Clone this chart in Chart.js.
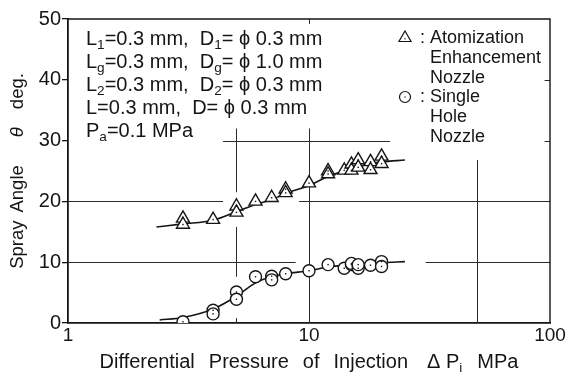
<!DOCTYPE html>
<html>
<head>
<meta charset="utf-8">
<script src="https://cdn.jsdelivr.net/npm/chart.js@4"></script>
<style>
  html, body { margin: 0; padding: 0; background: #fff; }
</style>
</head>
<body>
<canvas id="myChart" width="567" height="376"></canvas>
<script>
// measured points - atomization enhancement nozzle (triangles)
const pTri = [3, 3, 4, 5, 5, 6, 7, 8, 8, 10, 12, 12, 14, 15, 15, 16, 16, 18, 18, 20, 20];
const aTri = [17.2, 16.2, 17.0, 19.2, 18.2, 20.0, 20.6, 22.0, 21.4, 23.0, 25.0, 24.5, 25.1, 26.1, 25.1, 26.8, 25.6, 26.5, 25.2, 27.4, 26.2];
// measured points - single hole nozzle (circles)
const pCir = [3, 4, 4, 5, 5, 6, 7, 7, 8, 10, 12, 14, 15, 15, 16, 16, 18, 20, 20];
const aCir = [0.2, 2.1, 1.5, 5.1, 3.9, 7.6, 7.7, 7.1, 8.1, 8.6, 9.6, 9.0, 9.6, 9.8, 9.0, 9.6, 9.5, 10.1, 9.3];
// hand drawn trend curves
const pFitA = [2.33, 3, 4, 5, 6, 7, 8, 10, 12, 14, 16, 18, 20, 25];
const aFitA = [15.8, 16.3, 16.9, 18.3, 19.5, 20.3, 21.3, 22.6, 24.1, 25.0, 25.7, 26.2, 26.5, 26.8];
const pFitS = [2.4, 3, 4, 5, 6, 7, 8, 10, 12, 15, 20, 25];
const aFitS = [0.5, 0.9, 2.3, 4.4, 6.6, 7.6, 8.1, 8.6, 9.2, 9.6, 9.9, 10.1];
// axis ticks
const xTicks = [1, 10, 100];
const yTicks = [0, 10, 20, 30, 40, 50];
// broken grid lines of the original figure: [value, [from, to], ...]
const gridH = [
  [10, [1, 8.8], [30.5, 100]],
  [20, [1, 4.4], [9.1, 100]],
  [30, [4.4, 21.7], [95, 100]],
  [40, [95, 100]]
];
const gridV = [
  [5, [0, 0.8], [7.6, 15.8], [21.5, 32]],
  [10, [0, 32], [49.2, 50]],
  [50, [0, 26.8]]
];
// text
const noteLines = [
  [['L'], ['1', 'sub'], ['=0.3 mm,  D'], ['1', 'sub'], ['= ϕ 0.3 mm']],
  [['L'], ['g', 'sub'], ['=0.3 mm,  D'], ['g', 'sub'], ['= ϕ 1.0 mm']],
  [['L'], ['2', 'sub'], ['=0.3 mm,  D'], ['2', 'sub'], ['= ϕ 0.3 mm']],
  [['L=0.3 mm,  D= ϕ 0.3 mm']],
  [['P'], ['a', 'sub'], ['=0.1 MPa']]
];
const legendRows = ['Atomization', 'Enhancement', 'Nozzle', 'Single', 'Hole', 'Nozzle'];
const xTitle = [[['Differential']], [['Pressure']], [['of']], [['Injection']], [['Δ P'], ['i', 'sub']], [['MPa']]];
const yTitle = [[['Spray']], [['Angle']], [['θ', 'it']], [['deg.']]];

const FONT = '"Liberation Sans", Arial, sans-serif';
const INK = '#151515';

function pts(xs, ys) {
  return xs.map((x, i) => ({ x: x, y: ys[i] }));
}

// draw a run of text with subscripts / italics, returns width
function rich(ctx, parts, x, y, size, onlyMeasure) {
  let w = 0;
  parts.forEach(p => {
    let kind = p[1] || '';
    let s = kind === 'sub' ? size * 0.68 : size;
    ctx.font = (kind === 'it' ? 'italic ' : '') + s + 'px ' + FONT;
    if (!onlyMeasure) ctx.fillText(p[0], x + w, kind === 'sub' ? y + size * 0.22 : y);
    w += ctx.measureText(p[0]).width;
  });
  return w;
}

// words with a gap between them, centred on 0
function words(ctx, list, gaps, y, size) {
  let widths = list.map(w => rich(ctx, w, 0, 0, size, true));
  let total = widths.reduce((a, b) => a + b, 0) + gaps.reduce((a, b) => a + b, 0);
  let x = -total / 2;
  list.forEach((w, i) => {
    rich(ctx, w, x, y, size);
    x += widths[i] + (gaps[i] || 0);
  });
}

const paperPlugin = {
  id: 'paper',
  beforeDatasetsDraw(chart) {
    const ctx = chart.ctx;
    const xs = chart.scales.x, ys = chart.scales.y;
    const a = chart.chartArea;
    ctx.save();
    ctx.strokeStyle = '#2a2a2a';
    ctx.lineWidth = 1;
    gridH.forEach(row => {
      let py = Math.round(ys.getPixelForValue(row[0])) + 0.5;
      row.slice(1).forEach(seg => {
        ctx.beginPath();
        ctx.moveTo(xs.getPixelForValue(seg[0]), py);
        ctx.lineTo(xs.getPixelForValue(seg[1]), py);
        ctx.stroke();
      });
    });
    gridV.forEach(row => {
      let px = Math.round(xs.getPixelForValue(row[0])) + 0.5;
      row.slice(1).forEach(seg => {
        ctx.beginPath();
        ctx.moveTo(px, ys.getPixelForValue(seg[0]));
        ctx.lineTo(px, ys.getPixelForValue(seg[1]));
        ctx.stroke();
      });
    });
    // top and right frame
    ctx.strokeStyle = INK;
    ctx.lineWidth = 1.4;
    ctx.beginPath();
    ctx.moveTo(a.left, a.top);
    ctx.lineTo(a.right, a.top);
    ctx.lineTo(a.right, a.bottom);
    ctx.stroke();
    ctx.restore();
  },
  afterDatasetsDraw(chart) {
    const ctx = chart.ctx;
    const a = chart.chartArea;
    ctx.save();
    ctx.fillStyle = INK;
    // small dot in every marker
    [0, 1].forEach(i => {
      chart.getDatasetMeta(i).data.forEach(el => {
        ctx.fillRect(el.x - 0.7, el.y - 0.7, 1.4, 1.4);
      });
    });

    // condition notes
    ctx.textBaseline = 'alphabetic';
    ctx.textAlign = 'left';
    noteLines.forEach((line, i) => {
      rich(ctx, line, a.left + 18, a.top + 26 + i * 23, 20);
    });

    // legend
    const lx = 430;
    legendRows.forEach((t, i) => {
      rich(ctx, [[t]], lx, 43 + i * 19.8, 18);
    });
    rich(ctx, [[':']], lx - 10, 43, 18);
    rich(ctx, [[':']], lx - 10, 43 + 3 * 19.8, 18);
    ctx.strokeStyle = INK;
    ctx.lineWidth = 1.2;
    ctx.fillStyle = '#fff';
    Chart.helpers.drawPoint(ctx, { pointStyle: 'triangle', radius: 7, borderWidth: 1.2 }, lx - 25, 38);
    Chart.helpers.drawPoint(ctx, { pointStyle: 'circle', radius: 5.5, borderWidth: 1.2 }, lx - 25, 97);
    ctx.fillStyle = INK;
    ctx.fillRect(lx - 25.6, 38.2, 1.2, 1.2);
    ctx.fillRect(lx - 25.6, 96.4, 1.2, 1.2);

    // axis titles
    ctx.save();
    ctx.translate((a.left + a.right) / 2, 0);
    words(ctx, xTitle, [14, 14, 14, 19, 15], 368, 20);
    ctx.restore();
    ctx.save();
    ctx.translate(18, (a.top + a.bottom) / 2);
    ctx.rotate(-Math.PI / 2);
    ctx.textBaseline = 'middle';
    words(ctx, yTitle, [8, 28, 18], 0, 18.5);
    ctx.restore();

    ctx.restore();
  }
};

const ctx = document.getElementById('myChart').getContext('2d');
const markerStyle = { backgroundColor: '#fff', borderColor: INK, borderWidth: 1.4, showLine: false };

const myChart = new Chart(ctx, {
  type: 'scatter',
  data: {
    datasets: [
      Object.assign({ label: 'Atomization Enhancement Nozzle', data: pts(pTri, aTri), pointStyle: 'triangle', pointRadius: 7.5 }, markerStyle),
      Object.assign({ label: 'Single Hole Nozzle', data: pts(pCir, aCir), pointStyle: 'circle', pointRadius: 6 }, markerStyle),
      { label: 'fit A', data: pts(pFitA, aFitA), showLine: true, pointRadius: 0, borderColor: INK, borderWidth: 1.6, cubicInterpolationMode: 'monotone', fill: false },
      { label: 'fit S', data: pts(pFitS, aFitS), showLine: true, pointRadius: 0, borderColor: INK, borderWidth: 1.6, cubicInterpolationMode: 'monotone', fill: false }
    ]
  },
  options: {
    responsive: false,
    animation: false,
    layout: { padding: { left: 0, right: 17, top: 19, bottom: 0 } },
    plugins: { legend: { display: false }, tooltip: { enabled: false } },
    scales: {
      x: {
        type: 'logarithmic',
        min: 1,
        max: 100,
        grid: { display: false, drawTicks: false },
        border: { color: INK, width: 1.8 },
        afterBuildTicks: s => { s.ticks = xTicks.map(v => ({ value: v })); },
        afterFit: s => { s.height = 53; s.paddingLeft = 0; s.paddingRight = 0; },
        ticks: {
          color: INK, padding: 1, maxRotation: 0, autoSkip: false,
          font: { family: FONT, size: 19 },
          callback: v => String(v)
        }
      },
      y: {
        min: 0,
        max: 50,
        grid: { drawOnChartArea: false, tickLength: 6, color: INK, lineWidth: 1.3 },
        border: { color: INK, width: 1.8 },
        afterBuildTicks: s => { s.ticks = yTicks.map(v => ({ value: v })); },
        afterFit: s => { s.width = 68; s.paddingTop = 0; s.paddingBottom = 0; },
        ticks: { color: INK, padding: 1, font: { family: FONT, size: 20 } }
      }
    }
  },
  plugins: [paperPlugin]
});
</script>
</body>
</html>
